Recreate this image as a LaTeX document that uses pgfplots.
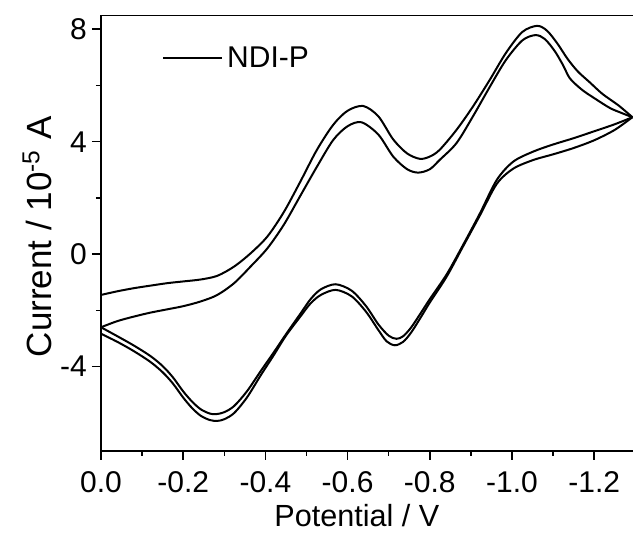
\documentclass[border=0pt]{standalone}
\usepackage{fontspec}
\setmainfont{Liberation Sans}
\usepackage{pgfplots}
\pgfplotsset{compat=1.18}

\begin{document}
\begin{tikzpicture}
\path[use as bounding box] (-50.5pt,-41.5pt) rectangle (266pt,225.5pt);
\begin{axis}[
  at={(0,0)}, anchor=south west,
  scale only axis, width=267.15pt, height=217.65pt,
  xmin=-1.3, xmax=0, x dir=reverse,
  ymin=-7, ymax=8.48,
  xtick={0,-0.2,-0.4,-0.6,-0.8,-1.0,-1.2},
  ytick={-4,0,4,8},
  minor x tick num=1, minor y tick num=1,
  xtick pos=left, ytick pos=left,
  tick align=outside,
  major tick length=4.5pt, minor tick length=2.5pt,
  every tick/.style={line width=0.75pt, black},
  axis line style={line width=0.75pt},
  /pgf/number format/assume math mode=true,
  xticklabel style={/pgf/number format/fixed, /pgf/number format/fixed zerofill, /pgf/number format/precision=1, font=\fontsize{15}{17}\selectfont, yshift=-2pt},
  yticklabel style={/pgf/number format/fixed, font=\fontsize{15}{17}\selectfont, xshift=1pt},
  xlabel={Potential / V},
  ylabel={Current / 10\textsuperscript{-5} A},
  xlabel style={at={(axis description cs:0.479,-0.1746)}, anchor=base, font=\fontsize{15.3}{18}\selectfont},
  ylabel style={at={(axis description cs:-0.0917,0.492)}, anchor=base, font=\fontsize{17.5}{20}\selectfont},
  legend style={draw=none, fill=none, at={(axis description cs:0.1026,0.902)}, anchor=west, font=\fontsize{15}{17}\selectfont},
  legend image code/.code={\draw[#1] (0pt,0pt) -- (29.5pt,0pt);},
  clip=true,
]
% cycle 1 forward
\addplot[black, line width=1pt, smooth] table {
x y
0.000 -1.45
-0.040 -1.32
-0.080 -1.21
-0.120 -1.12
-0.162 -1.03
-0.200 -0.97
-0.243 -0.90
-0.283 -0.77
-0.324 -0.44
-0.364 0.03
-0.405 0.63
-0.445 1.50
-0.484 2.55
-0.525 3.70
-0.565 4.60
-0.600 5.10
-0.638 5.27
-0.675 4.90
-0.711 4.08
-0.745 3.58
-0.776 3.39
-0.800 3.47
-0.824 3.71
-0.865 4.42
-0.905 5.25
-0.946 6.20
-0.985 7.15
-1.025 7.90
-1.061 8.12
-1.085 7.95
-1.110 7.50
-1.135 6.95
-1.160 6.50
-1.190 6.10
-1.220 5.70
-1.260 5.28
-1.293 4.87
};
\addlegendentry{NDI-P}
% cycle 1 return
\addplot[black, line width=1pt, smooth, forget plot] table {
x y
-1.293 4.87
-1.250 4.62
-1.200 4.37
-1.149 4.12
-1.100 3.90
-1.052 3.65
-1.003 3.29
-0.963 2.64
-0.922 1.45
-0.880 0.30
-0.841 -0.72
-0.800 -1.60
-0.780 -2.05
-0.755 -2.60
-0.735 -2.92
-0.719 -3.01
-0.700 -2.90
-0.675 -2.50
-0.645 -1.85
-0.610 -1.30
-0.571 -1.07
-0.535 -1.25
-0.510 -1.60
-0.486 -2.10
-0.450 -2.85
-0.420 -3.50
-0.389 -4.15
-0.355 -4.88
-0.324 -5.40
-0.300 -5.62
-0.280 -5.69
-0.265 -5.67
-0.243 -5.52
-0.222 -5.25
-0.200 -4.88
-0.175 -4.38
-0.150 -3.98
-0.120 -3.62
-0.080 -3.25
-0.040 -2.92
0.000 -2.60
};
% cycle 2 forward
\addplot[black, line width=1pt, smooth, forget plot] table {
x y
0.000 -2.60
-0.040 -2.38
-0.080 -2.22
-0.120 -2.08
-0.162 -1.96
-0.200 -1.85
-0.243 -1.68
-0.283 -1.45
-0.324 -1.03
-0.364 -0.44
-0.405 0.21
-0.445 1.05
-0.484 2.05
-0.525 3.10
-0.565 4.06
-0.600 4.55
-0.634 4.69
-0.675 4.25
-0.711 3.47
-0.745 3.02
-0.772 2.90
-0.800 3.02
-0.824 3.35
-0.865 3.95
-0.905 4.90
-0.946 5.95
-0.985 6.90
-1.025 7.60
-1.057 7.79
-1.080 7.65
-1.105 7.20
-1.125 6.70
-1.141 6.25
-1.170 5.85
-1.200 5.55
-1.238 5.20
-1.265 5.03
-1.293 4.87
};
% cycle 2 return
\addplot[black, line width=1pt, smooth, forget plot] table {
x y
-1.293 4.87
-1.250 4.42
-1.200 4.05
-1.149 3.77
-1.100 3.55
-1.052 3.35
-1.003 3.04
-0.963 2.50
-0.922 1.38
-0.880 0.25
-0.841 -0.80
-0.800 -1.72
-0.780 -2.20
-0.755 -2.78
-0.735 -3.12
-0.715 -3.24
-0.695 -3.10
-0.675 -2.70
-0.645 -2.05
-0.610 -1.50
-0.571 -1.27
-0.535 -1.45
-0.510 -1.75
-0.486 -2.20
-0.450 -2.90
-0.420 -3.60
-0.389 -4.30
-0.355 -5.10
-0.324 -5.65
-0.300 -5.87
-0.283 -5.93
-0.265 -5.90
-0.243 -5.75
-0.222 -5.48
-0.200 -5.10
-0.175 -4.60
-0.150 -4.20
-0.120 -3.83
-0.080 -3.45
-0.040 -3.12
0.000 -2.83
};
\end{axis}
\end{tikzpicture}
\end{document}
